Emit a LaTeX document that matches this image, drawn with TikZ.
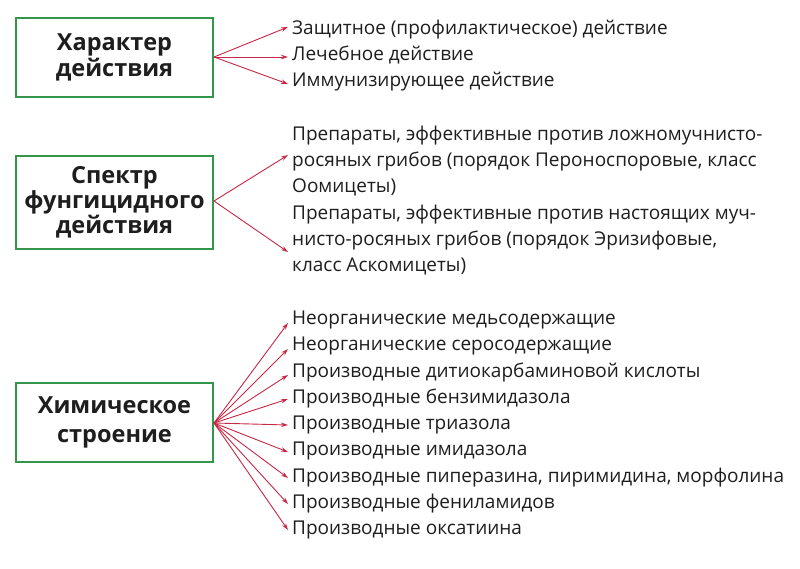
\documentclass[tikz,border=0pt]{standalone}
\usepackage{fontspec}
\setmainfont{Open Sans}
\usetikzlibrary{arrows.meta}
\definecolor{boxgreen}{RGB}{52,150,72}
\definecolor{arrred}{RGB}{200,40,70}
\definecolor{txt}{RGB}{30,30,30}
\tikzset{
  catbox/.style={draw=boxgreen, line width=2pt, fill=white, inner sep=0pt, align=center,
    text=txt, font=\fontsize{23.5}{26.5}\selectfont\bfseries, minimum width=197pt},
  item/.style={anchor=mid west, inner sep=0pt, text=txt, font=\fontsize{19}{26}\selectfont, align=left},
  arr/.style={draw=arrred, line width=0.9pt, -{Stealth[length=7pt,width=4.5pt]}}
}
\begin{document}
\begin{tikzpicture}[x=1pt,y=-1pt]
\useasboundingbox[fill=white] (0,0) rectangle (800,568);
% boxes
\node[catbox, minimum height=79pt] (b1) at (114.5,57.5) {Характер\\действия};
\node[catbox, minimum height=93pt, font=\fontsize{23.5}{25}\selectfont\bfseries] (b2) at (114.5,202.5) {Спектр\\фунгицидного\\действия};
\node[catbox, minimum height=79pt, font=\fontsize{23.5}{29}\selectfont\bfseries] (b3) at (114.5,422.5) {Химическое\\строение};
% block 1 items
\node[item] (t11) at (292,32) {Защитное (профилактическое) действие};
\node[item] (t12) at (292,58) {Лечебное действие};
\node[item] (t13) at (292,84) {Иммунизирующее действие};
% block 2 items
\node[item] (t21) at (292,138) {Препараты, эффективные против ложномучнисто-};
\node[item] (t22) at (292,164) {росяных грибов (порядок Пероноспоровые, класс};
\node[item] (t23) at (292,190) {Оомицеты)};
\node[item] (t24) at (292,217) {Препараты, эффективные против настоящих муч-};
\node[item] (t25) at (292,243) {нисто-росяных грибов (порядок Эризифовые,};
\node[item] (t26) at (292,269) {класс Аскомицеты)};
% block 3 items
\node[item] (t31) at (292,322) {Неорганические медьсодержащие};
\node[item] (t32) at (292,348) {Неорганические серосодержащие};
\node[item] (t33) at (292,374.5) {Производные дитиокарбаминовой кислоты};
\node[item] (t34) at (292,401) {Производные бензимидазола};
\node[item] (t35) at (292,427) {Производные триазола};
\node[item] (t36) at (292,453) {Производные имидазола};
\node[item] (t37) at (292,479.5) {Производные пиперазина, пиримидина, морфолина};
\node[item] (t38) at (292,505.5) {Производные фениламидов};
\node[item] (t39) at (292,532) {Производные оксатиина};
% arrow tips
\coordinate (s1) at (214,57);
\coordinate (s2) at (214,201);
\coordinate (s3) at (214,423);
\coordinate (e11) at (288,27);
\coordinate (e12) at (288,57);
\coordinate (e13) at (288,84);
\coordinate (e21) at (288,155);
\coordinate (e22) at (288,252);
\coordinate (e31) at (288,323);
\coordinate (e32) at (288,349);
\coordinate (e33) at (288,375);
\coordinate (e34) at (288,399);
\coordinate (e35) at (288,425);
\coordinate (e36) at (288,452);
\coordinate (e37) at (288,478);
\coordinate (e38) at (288,504);
\coordinate (e39) at (288,530);
\foreach \e in {e11,e12,e13} \draw[arr] (s1) -- (\e);
\foreach \e in {e21,e22} \draw[arr] (s2) -- (\e);
\foreach \e in {e31,e32,e33,e34,e35,e36,e37,e38,e39} \draw[arr] (s3) -- (\e);
\end{tikzpicture}
\end{document}
